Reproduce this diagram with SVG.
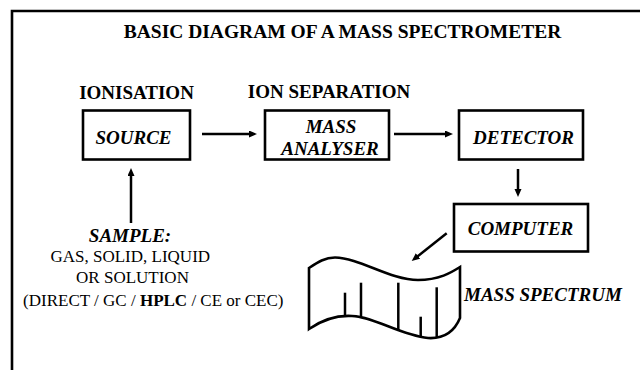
<svg xmlns="http://www.w3.org/2000/svg" width="640" height="370" viewBox="0 0 640 370">
<style>
  .title { font-size: 19.5px; font-weight: bold; }
  .head { font-size: 19px; font-weight: bold; }
  .lbl { font-size: 19px; font-weight: bold; font-style: italic; }
  .txt { font-size: 17px; }
  .box { fill: #fff; stroke: #000; stroke-width: 2.6; }
  .conn { stroke: #000; stroke-width: 2.5; fill: none; }
</style>
<defs>
  <marker id="ah" markerUnits="userSpaceOnUse" markerWidth="10" markerHeight="8" refX="2" refY="3.5" orient="auto">
    <path d="M0,0 L8,3.5 L0,7 Z" fill="#000"/>
  </marker>
</defs>
<rect width="640" height="370" fill="#fff"/>
<path d="M640 11 H12 V370" fill="none" stroke="#000" stroke-width="2.6"/>
<g font-family="'Liberation Serif', 'Times New Roman', serif" fill="#000">
<text class="title" x="342.5" y="38" text-anchor="middle">BASIC DIAGRAM OF A MASS SPECTROMETER</text>
<text class="head" x="136.5" y="99" text-anchor="middle">IONISATION</text>
<text class="head" x="329" y="97.5" text-anchor="middle">ION SEPARATION</text>

<g id="source">
  <rect class="box" x="83" y="110.5" width="107" height="49"/>
  <text class="lbl" x="133.5" y="144" text-anchor="middle">SOURCE</text>
</g>
<g id="mass-analyser">
  <rect class="box" x="265" y="110.5" width="124" height="49"/>
  <text class="lbl" x="331" y="133" text-anchor="middle">MASS</text>
  <text class="lbl" x="330" y="155" text-anchor="middle">ANALYSER</text>
</g>
<g id="detector">
  <rect class="box" x="459" y="110.5" width="124" height="49"/>
  <text class="lbl" x="523.5" y="144" text-anchor="middle">DETECTOR</text>
</g>
<g id="computer">
  <rect class="box" x="454" y="204" width="134" height="47.5"/>
  <text class="lbl" x="520.5" y="235" text-anchor="middle">COMPUTER</text>
</g>
<g id="sample">
  <text class="lbl" x="130" y="241.7" text-anchor="middle">SAMPLE:</text>
  <text class="txt" x="130.3" y="261.7" text-anchor="middle">GAS, SOLID, LIQUID</text>
  <text class="txt" x="132.5" y="282.7" text-anchor="middle">OR SOLUTION</text>
  <text class="txt" x="153.3" y="306" text-anchor="middle">(DIRECT / GC / <tspan font-weight="bold">HPLC</tspan> / CE or CEC)</text>
</g>
<g id="mass-spectrum">
  <path d="M309 268 C318 262 325 257.5 335 257.5 C360 258 390 280 418 280 C440 280 452 272 460 267 L460 318 C455 330 445 339 428 338 C400 335 375 317 352 316 C335 315 322 320 309 329 Z" fill="#fff" stroke="#000" stroke-width="2.6" stroke-linejoin="miter"/>
  <g stroke="#000" stroke-width="2.5">
    <line x1="345" y1="292.7" x2="345" y2="317"/>
    <line x1="361" y1="282.7" x2="361" y2="316.5"/>
    <line x1="398.3" y1="282.7" x2="398.3" y2="331"/>
    <line x1="420.7" y1="316.7" x2="420.7" y2="337"/>
    <line x1="436.7" y1="287.3" x2="436.7" y2="337.5"/>
  </g>
  <text class="lbl" x="464" y="301">MASS SPECTRUM</text>
</g>
</g>
<g id="connectors">
  <line class="conn" x1="202" y1="134" x2="251" y2="134" marker-end="url(#ah)"/>
  <line class="conn" x1="394" y1="134" x2="447" y2="134" marker-end="url(#ah)"/>
  <line class="conn" x1="518" y1="169" x2="518" y2="191" marker-end="url(#ah)"/>
  <line class="conn" x1="131" y1="223" x2="131" y2="174" marker-end="url(#ah)"/>
  <line class="conn" x1="446.7" y1="233.3" x2="416.4" y2="257.3" marker-end="url(#ah)"/>
</g>
</svg>
